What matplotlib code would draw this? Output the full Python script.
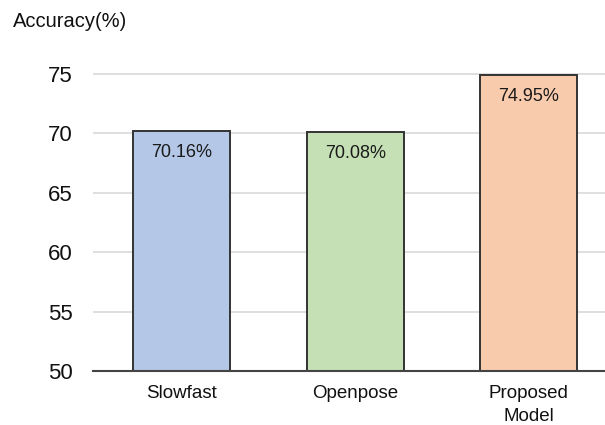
import numpy as np
import matplotlib.pyplot as plt

plt.rcParams['font.family'] = ['Liberation Sans', 'DejaVu Sans']

models = ['Slowfast', 'Openpose', 'Proposed\nModel']
accuracy = [70.16, 70.08, 74.95]
bar_colors = ['#b4c7e7', '#c5e0b4', '#f8cbad']
yticks = [50, 55, 60, 65, 70, 75]

fig = plt.figure(figsize=(6.05, 4.25), dpi=100)
ax = fig.add_axes([0.154, 0.127, 0.846, 0.727])  # [left bottom width height]

x = np.arange(len(models))
ax.set_axisbelow(True)
ax.grid(axis='y', color='#d9d9d9', linewidth=1.2)
bars = ax.bar(x, accuracy, width=0.56, color=bar_colors, edgecolor='#333333', linewidth=1.4)

for b, v in zip(bars, accuracy):
    ax.annotate('%.2f%%' % v, (b.get_x() + b.get_width() / 2, v), xytext=(0, -15.5),
                textcoords='offset points', ha='center', va='center', fontsize=13, color='#1a1a1a')

ax.set_ylim(50, 76)
ax.set_xlim(-0.51, 2.44)
ax.set_yticks(yticks)
ax.set_yticklabels([str(t) for t in yticks], fontsize=16, color='#111111')
ax.set_xticks(x)
ax.set_xticklabels(models, fontsize=13.5, color='#111111', linespacing=1.5)
ax.tick_params(axis='y', length=0, pad=15)
ax.tick_params(axis='x', length=0, pad=10)

for s in ['top', 'right', 'left']:
    ax.spines[s].set_visible(False)
ax.spines['bottom'].set_color('#444444')
ax.spines['bottom'].set_linewidth(1.5)

fig.text(0.022, 0.95, 'Accuracy(%)', fontsize=14.5, ha='left', va='center', color='#111111')

plt.savefig('out.png', dpi=100, facecolor='w')
